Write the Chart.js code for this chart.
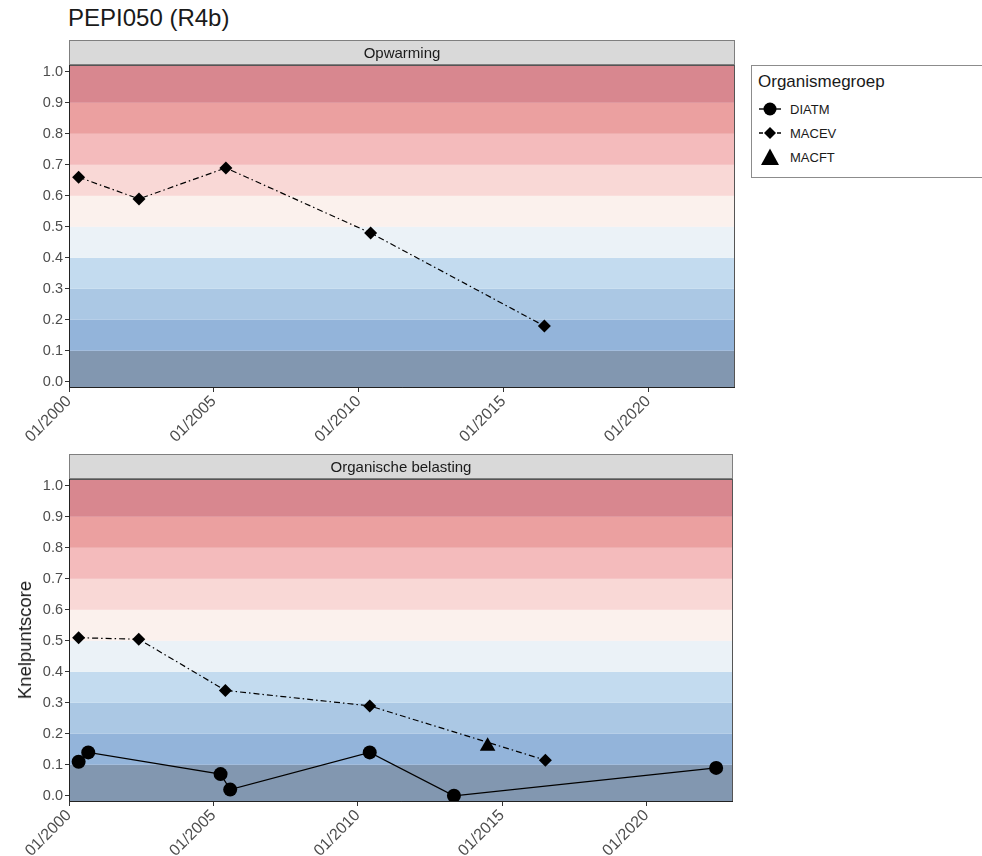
<!DOCTYPE html>
<html>
<head>
<meta charset="utf-8">
<script src="https://cdn.jsdelivr.net/npm/chart.js@4"></script>
<style>
  body { margin: 0; background: #fff; font-family: "Liberation Sans", Arial, sans-serif; }
  #wrap { position: relative; width: 982px; height: 856px; overflow: hidden; }
  .abs { position: absolute; }
  #title { left: 68px; top: 4px; font-size: 24px; color: #1a1a1a; }
  #ylab { left: 25px; top: 640px; font-size: 18.5px; color: #1a1a1a; transform: translate(-50%, -50%) rotate(-90deg); white-space: nowrap; }
  #legend { left: 751px; top: 65px; width: 240px; height: 113px; border: 1px solid #8c8c8c; box-sizing: border-box; }
  #legend .ttl { position: absolute; left: 6px; top: 6px; font-size: 17px; color: #1a1a1a; }
  #legend .item { position: absolute; left: 6px; height: 20px; display: flex; align-items: center; font-size: 13px; color: #1a1a1a; }
  #legend .item span { margin-left: 8px; }
</style>
</head>
<body>
<div id="wrap">
  <div id="title" class="abs">PEPI050 (R4b)</div>
  <canvas id="top" class="abs" style="left:0;top:40px"></canvas>
  <canvas id="bottom" class="abs" style="left:0;top:453px"></canvas>
  <div id="ylab" class="abs">Knelpuntscore</div>
  <div id="legend" class="abs">
    <div class="ttl">Organismegroep</div>
    <div class="item" style="top:33px">
      <svg width="24" height="16"><line x1="1" y1="8" x2="23" y2="8" stroke="#000" stroke-width="1.4"/><circle cx="12" cy="8" r="6.5" fill="#000"/></svg><span>DIATM</span>
    </div>
    <div class="item" style="top:57px">
      <svg width="24" height="16"><line x1="1" y1="8" x2="23" y2="8" stroke="#000" stroke-width="1.4" stroke-dasharray="4,2,1,2"/><polygon points="12,2 18,8 12,14 6,8" fill="#000"/></svg><span>MACEV</span>
    </div>
    <div class="item" style="top:81px">
      <svg width="24" height="18"><polygon points="12,0.5 21,17 3,17" fill="#000"/></svg><span>MACFT</span>
    </div>
  </div>
</div>
<script>
// ---- data ----
const xTickYears = [2000, 2005, 2010, 2015, 2020];
const yTicks = [0, 0.1, 0.2, 0.3, 0.4, 0.5, 0.6, 0.7, 0.8, 0.9, 1.0];

const bandColors = ['#8297b0', '#93b4da', '#abc8e4', '#c3dbef', '#ebf2f7',
                    '#fbf1ed', '#f9d8d6', '#f4bbbc', '#eba0a0', '#d8878f'];

// Opwarming
const opwMacevDates = ['2000-05', '2002-06', '2005-06', '2010-06', '2016-06'];
const opwMacevValues = [0.66, 0.59, 0.69, 0.48, 0.18];

// Organische belasting
const orgDiatmDates = ['2000-05', '2000-09', '2005-04', '2005-08', '2010-06', '2013-05', '2022-06'];
const orgDiatmValues = [0.11, 0.14, 0.07, 0.02, 0.14, 0.0, 0.09];
const orgMacevDates = ['2000-05', '2002-06', '2005-06', '2010-06', '2016-07'];
const orgMacevValues = [0.51, 0.505, 0.34, 0.29, 0.115];
const orgMacftDates = ['2014-07'];
const orgMacftValues = [0.16];

function toYear(s) {
    const [y, m] = s.split('-').map(Number);
    return y + (m - 1) / 12;
}
function toPoints(dates, values) {
    return dates.map((d, i) => ({ x: toYear(d), y: values[i] }));
}

const tickFont = '"Liberation Sans", Arial, sans-serif';

// background bands + border + strip
const panelPlugin = {
    id: 'panel',
    beforeDatasetsDraw(chart) {
        const { ctx, chartArea: a, scales: { y } } = chart;
        ctx.save();
        bandColors.forEach((c, i) => {
            let top = y.getPixelForValue((i + 1) / 10);
            let bot = y.getPixelForValue(i / 10);
            if (i === bandColors.length - 1) top = a.top;
            if (i === 0) bot = a.bottom;
            ctx.fillStyle = c;
            ctx.fillRect(a.left, top, a.right - a.left, bot - top);
        });
        ctx.restore();
    },
    afterDraw(chart) {
        const { ctx, chartArea: a } = chart;
        const label = chart.options.plugins.panel.label;
        ctx.save();
        ctx.strokeStyle = '#555';
        ctx.lineWidth = 1;
        ctx.strokeRect(a.left + 0.5, a.top + 0.5, a.right - a.left - 1, a.bottom - a.top - 1);
        ctx.strokeStyle = '#222';
        ctx.beginPath();
        ctx.moveTo(a.left + 0.5, a.top);
        ctx.lineTo(a.left + 0.5, a.bottom - 0.5);
        ctx.lineTo(a.right, a.bottom - 0.5);
        ctx.stroke();
        // strip
        const h = 25;
        ctx.fillStyle = '#d9d9d9';
        ctx.fillRect(a.left, a.top - h, a.right - a.left, h);
        ctx.strokeStyle = '#7f7f7f';
        ctx.strokeRect(a.left + 0.5, a.top - h + 0.5, a.right - a.left - 1, h - 1);
        ctx.fillStyle = '#1a1a1a';
        ctx.font = '15px ' + tickFont;
        ctx.textAlign = 'center';
        ctx.textBaseline = 'middle';
        ctx.fillText(label, (a.left + a.right) / 2, a.top - h / 2 + 1);
        ctx.restore();
    }
};

function makeDataset(label, pts, style) {
    return Object.assign({
        label: label,
        data: pts,
        borderColor: '#000',
        backgroundColor: '#000',
        borderWidth: 1.2,
        pointBorderWidth: 0,
        pointHoverRadius: 6,
        tension: 0,
        fill: false
    }, style);
}

const diatmStyle = { pointStyle: 'circle', pointRadius: 7 };
const macevStyle = { pointStyle: 'rectRot', pointRadius: 6.5, borderDash: [6, 3, 1.5, 3] };
const macftStyle = { pointStyle: 'triangle', pointRadius: 9, borderDash: [4, 4] };

function makeChart(id, w, h, padTop, label, datasets) {
    const canvas = document.getElementById(id);
    canvas.width = w; canvas.height = h;
    canvas.style.width = w + 'px'; canvas.style.height = h + 'px';
    return new Chart(canvas, {
        type: 'line',
        data: { datasets: datasets },
        plugins: [panelPlugin],
        options: {
            responsive: false,
            animation: false,
            layout: { padding: { top: padTop, right: 7, left: 0, bottom: 0 } },
            plugins: {
                legend: { display: false },
                tooltip: { enabled: false },
                panel: { label: label }
            },
            scales: {
                x: {
                    type: 'linear',
                    min: 2000,
                    max: 2023,
                    afterBuildTicks: axis => { axis.ticks = xTickYears.map(v => ({ value: v })); },
                    afterFit: axis => { axis.height = 68; },
                    grid: { drawOnChartArea: false, drawTicks: true, tickLength: 4, color: '#333' },
                    border: { display: false },
                    ticks: {
                        autoSkip: false,
                        minRotation: 45,
                        maxRotation: 45,
                        padding: 0,
                        color: '#4d4d4d',
                        font: { family: tickFont, size: 16 },
                        callback: v => '01/' + v
                    }
                },
                y: {
                    min: -0.02,
                    max: 1.022,
                    afterBuildTicks: axis => { axis.ticks = yTicks.map(v => ({ value: v })); },
                    afterFit: axis => { axis.width = 69; },
                    grid: { drawOnChartArea: false, drawTicks: true, tickLength: 4, color: '#333' },
                    border: { display: false },
                    ticks: {
                        padding: 2,
                        color: '#4d4d4d',
                        font: { family: tickFont, size: 14.5 },
                        callback: v => v.toFixed(1)
                    }
                }
            }
        }
    });
}

// top: chartArea 65..388
makeChart('top', 742, 416, 25, 'Opwarming', [
    makeDataset('MACEV', toPoints(opwMacevDates, opwMacevValues), macevStyle)
]);

// bottom: chartArea 479..802
makeChart('bottom', 742, 417, 26, 'Organische belasting', [
    makeDataset('DIATM', toPoints(orgDiatmDates, orgDiatmValues), diatmStyle),
    makeDataset('MACEV', toPoints(orgMacevDates, orgMacevValues), macevStyle),
    makeDataset('MACFT', toPoints(orgMacftDates, orgMacftValues), macftStyle)
]);
</script>
</body>
</html>
